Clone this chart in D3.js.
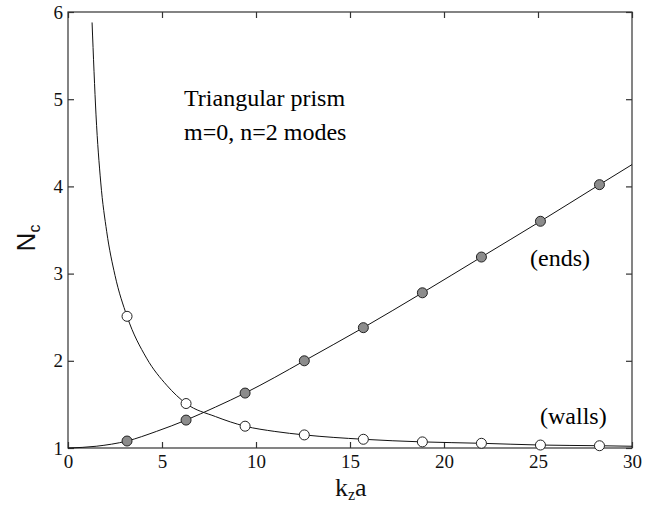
<!DOCTYPE html>
<html>
<head>
<meta charset="utf-8">
<script src="https://cdn.jsdelivr.net/npm/d3@7"></script>
<style>
  body { margin: 0; background: #fff; }
  .axis path, .axis line { stroke: #333; stroke-width: 1.2; }
  .axis text { font-family: "Liberation Serif", serif; font-size: 19px; fill: #111; }
</style>
</head>
<body>
<div id="chart"></div>
<script>
// marker positions (k_z a) and values
const kzMarks = [3.14, 6.28, 9.42, 12.57, 15.71, 18.85, 21.99, 25.13, 28.27];
const endsMarks = [1.08, 1.32, 1.63, 2.0, 2.38, 2.78, 3.19, 3.60, 4.02];
const wallsMarks = [2.51, 1.51, 1.25, 1.15, 1.10, 1.07, 1.054, 1.034, 1.026];

// continuous curves
const endsCurveX = [0, 1.5, 3.14, 4.7, 6.28, 7.85, 9.42, 11, 12.57, 15.71, 18.85, 21.99, 25.13, 28.27, 30];
const endsCurveY = [1, 1.02, 1.08, 1.19, 1.32, 1.47, 1.63, 1.81, 2.0, 2.38, 2.78, 3.19, 3.6, 4.02, 4.25];
const wallsCurveX = [1.28, 1.49, 1.74, 2.06, 2.5, 3.14, 4.18, 5.25, 6.28, 7.85, 9.42, 11, 12.57, 15.71, 18.85, 21.99, 25.13, 28.27, 30];
const wallsCurveY = [5.88, 4.82, 4.05, 3.48, 2.98, 2.51, 2.03, 1.72, 1.51, 1.36, 1.25, 1.19, 1.15, 1.10, 1.07, 1.054, 1.034, 1.026, 1.02];

const xTicks = [0, 5, 10, 15, 20, 25, 30];
const yTicks = [1, 2, 3, 4, 5, 6];

const width = 655, height = 506;
const svg = d3.select("#chart").append("svg")
  .attr("width", width)
  .attr("height", height);

const x = d3.scaleLinear().domain([0, 30]).range([68, 632]);
const y = d3.scaleLinear().domain([1, 6]).range([448, 12]);

// frame
svg.append("rect")
  .attr("x", x(0)).attr("y", y(6))
  .attr("width", x(30) - x(0)).attr("height", y(1) - y(6))
  .attr("fill", "none").attr("stroke", "#333").attr("stroke-width", 1.2);

// axes, ticks pointing inward
svg.append("g").attr("class", "axis")
  .attr("transform", `translate(0,${y(1)})`)
  .call(d3.axisBottom(x).tickValues(xTicks).tickSize(-6).tickPadding(7).tickFormat(d3.format("d")))
  .call(g => g.select(".domain").remove());

svg.append("g").attr("class", "axis")
  .attr("transform", `translate(0,${y(6)})`)
  .call(d3.axisTop(x).tickValues(xTicks).tickSize(-6).tickFormat(""))
  .call(g => g.select(".domain").remove());

svg.append("g").attr("class", "axis")
  .attr("transform", `translate(${x(0)},0)`)
  .call(d3.axisLeft(y).tickValues(yTicks).tickSize(-6).tickPadding(5).tickFormat(d3.format("d")))
  .call(g => g.select(".domain").remove());

svg.append("g").attr("class", "axis")
  .attr("transform", `translate(${x(30)},0)`)
  .call(d3.axisRight(y).tickValues(yTicks).tickSize(-6).tickFormat(""))
  .call(g => g.select(".domain").remove());

// curves
const line = d3.line()
  .x(d => x(d[0]))
  .y(d => y(d[1]))
  .curve(d3.curveMonotoneX);

svg.append("path")
  .datum(d3.zip(endsCurveX, endsCurveY))
  .attr("d", line)
  .attr("fill", "none").attr("stroke", "#111").attr("stroke-width", 1);

svg.append("path")
  .datum(d3.zip(wallsCurveX, wallsCurveY))
  .attr("d", line)
  .attr("fill", "none").attr("stroke", "#111").attr("stroke-width", 1);

// markers
svg.append("g").selectAll("circle")
  .data(d3.zip(kzMarks, endsMarks))
  .join("circle")
  .attr("cx", d => x(d[0])).attr("cy", d => y(d[1])).attr("r", 5)
  .attr("fill", "#8c8c8c").attr("stroke", "#222").attr("stroke-width", 1);

svg.append("g").selectAll("circle")
  .data(d3.zip(kzMarks, wallsMarks))
  .join("circle")
  .attr("cx", d => x(d[0])).attr("cy", d => y(d[1])).attr("r", 5)
  .attr("fill", "#fff").attr("stroke", "#222").attr("stroke-width", 1);

// annotations
const serif = "Liberation Serif, serif";
svg.append("text").attr("x", 184).attr("y", 106)
  .attr("font-family", serif).attr("font-size", 24).text("Triangular prism");
svg.append("text").attr("x", 184).attr("y", 140)
  .attr("font-family", serif).attr("font-size", 24).text("m=0, n=2 modes");
svg.append("text").attr("x", 530).attr("y", 266)
  .attr("font-family", serif).attr("font-size", 24).text("(ends)");
svg.append("text").attr("x", 540).attr("y", 424)
  .attr("font-family", serif).attr("font-size", 24).text("(walls)");

// axis titles
const xl = svg.append("text").attr("x", 335).attr("y", 496)
  .attr("font-family", serif).attr("font-size", 26).attr("fill", "#111");
xl.append("tspan").text("k");
xl.append("tspan").attr("font-size", 16).attr("dy", 4).text("z");
xl.append("tspan").attr("dy", -4).text("a");

const yl = svg.append("text")
  .attr("transform", "translate(35,238) rotate(-90)")
  .attr("text-anchor", "middle")
  .attr("font-family", "Liberation Sans, Arial, sans-serif").attr("font-size", 26).attr("fill", "#111");
yl.append("tspan").text("N");
yl.append("tspan").attr("font-size", 16).attr("dy", 5).text("c");
</script>
</body>
</html>
